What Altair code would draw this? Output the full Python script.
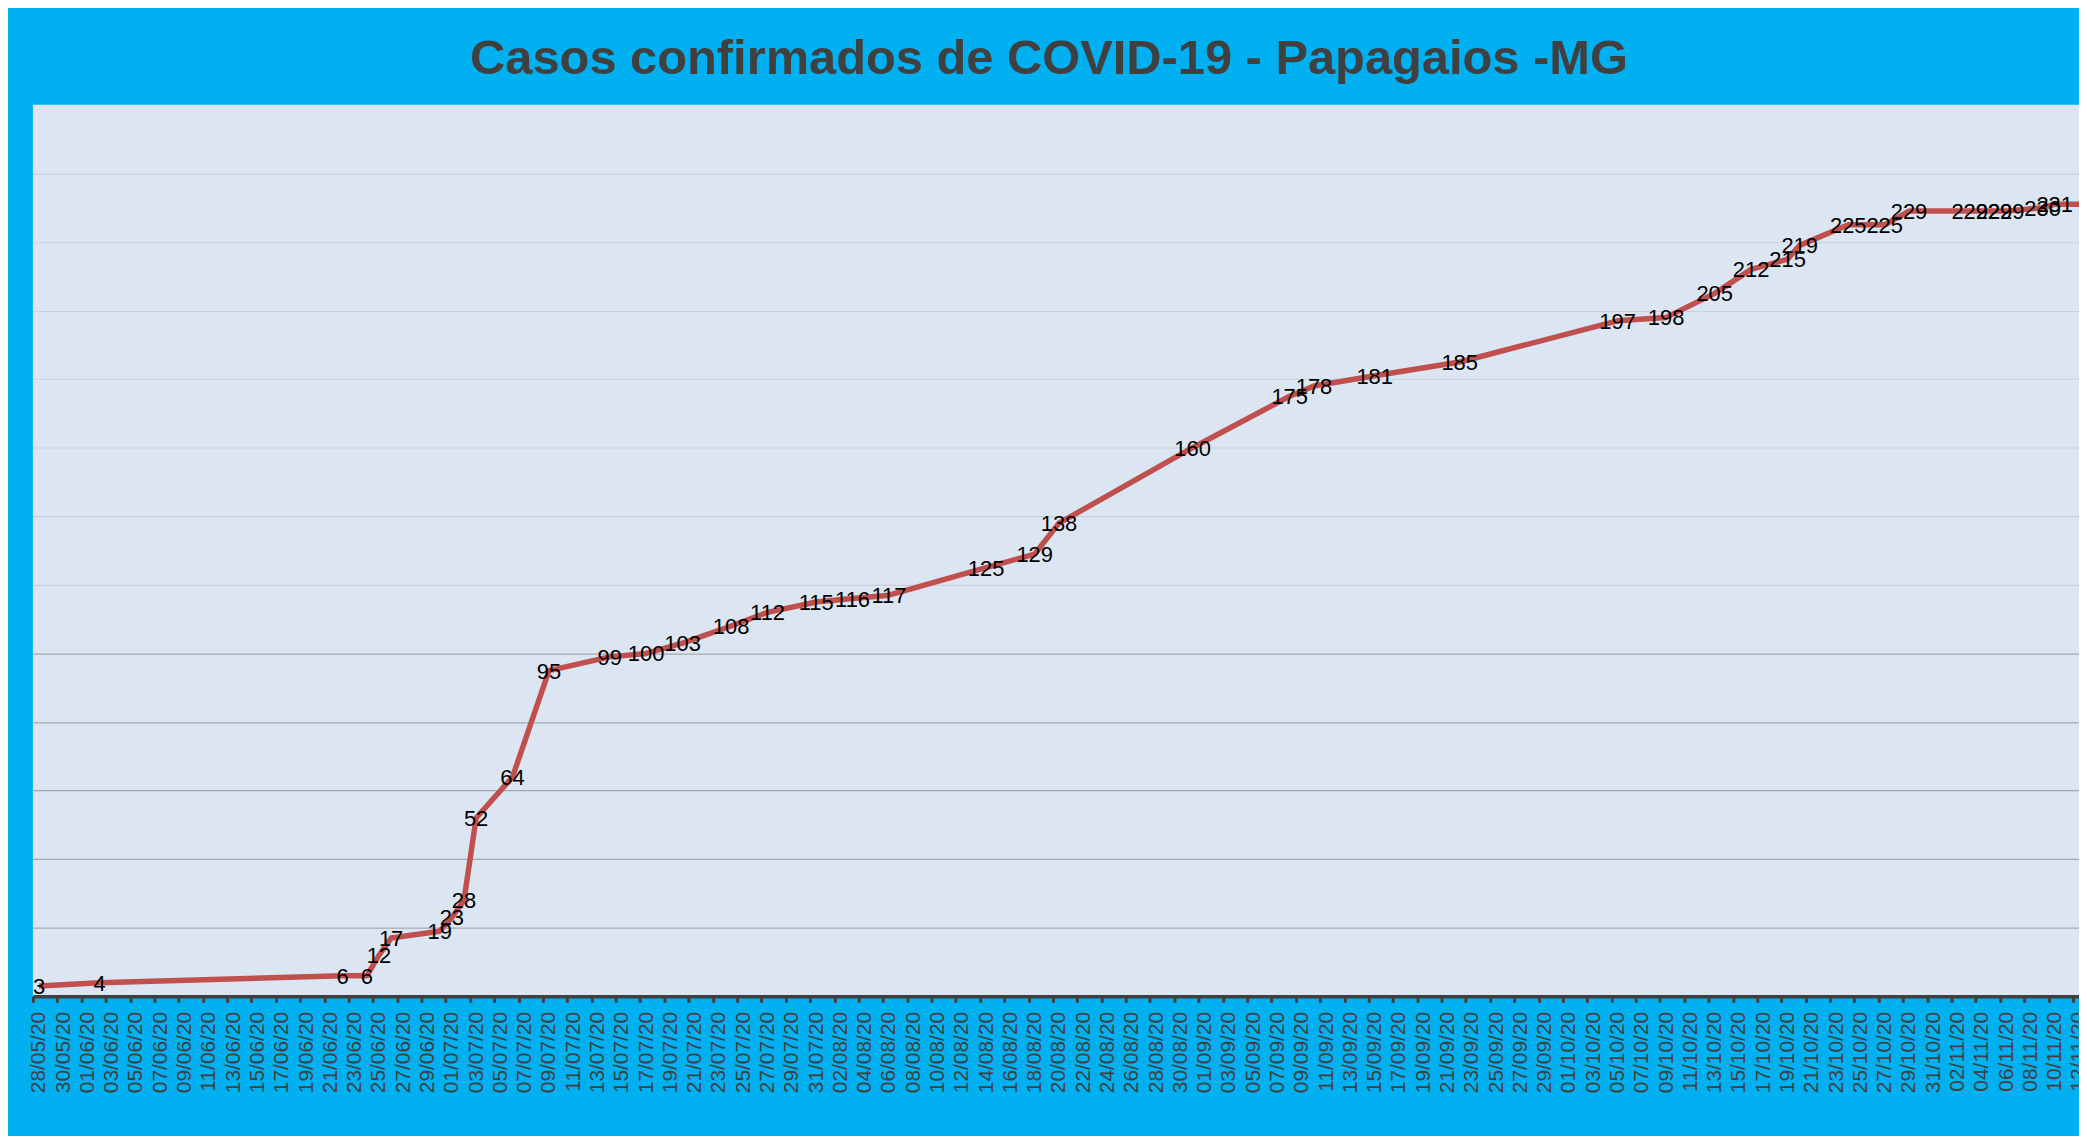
import altair as alt
import pandas as pd

# ---- data ----
dates = [
    "2020-05-28", "2020-06-02", "2020-06-22", "2020-06-24", "2020-06-25", "2020-06-26",
    "2020-06-30", "2020-07-01", "2020-07-02", "2020-07-03", "2020-07-06", "2020-07-09",
    "2020-07-14", "2020-07-17", "2020-07-20", "2020-07-24", "2020-07-27", "2020-07-31",
    "2020-08-03", "2020-08-06", "2020-08-14", "2020-08-18", "2020-08-20", "2020-08-31",
    "2020-09-08", "2020-09-10", "2020-09-15", "2020-09-22", "2020-10-05", "2020-10-09",
    "2020-10-13", "2020-10-16", "2020-10-19", "2020-10-20", "2020-10-24", "2020-10-27",
    "2020-10-29", "2020-11-03", "2020-11-05", "2020-11-06", "2020-11-09", "2020-11-10",
    "2020-11-15",
]
casos = [
    3, 4, 6, 6, 12, 17,
    19, 23, 28, 52, 64, 95,
    99, 100, 103, 108, 112, 115,
    116, 117, 125, 129, 138, 160,
    175, 178, 181, 185, 197, 198,
    205, 212, 215, 219, 225, 225,
    229, 229, 229, 229, 230, 231,
    231,
]

title_text = "Casos confirmados de COVID-19 - Papagaios -MG"
axis_start = "2020-05-28T00:00:00"
axis_end = "2020-11-12T12:00:00"   # the plot runs off the right edge in the reference
last_tick = "2020-11-12"
y_max = 260
y_grid = [20, 40, 60, 80, 100, 120, 140, 160, 180, 200, 220, 240]

df = pd.DataFrame({"data": dates, "casos": casos})

tick_dates = pd.date_range(axis_start, last_tick, freq="2D", tz="UTC")
tick_ms = [int(t.value // 1_000_000) for t in tick_dates]
start_ms = int(pd.Timestamp(axis_start, tz="UTC").value // 1_000_000)
end_ms = int(pd.Timestamp(axis_end, tz="UTC").value // 1_000_000)

FONT = "Liberation Sans"

W = 2054
H = 895

x_enc = alt.X(
    "t:T",
    scale=alt.Scale(type="utc", domain=[start_ms, end_ms]),
    axis=alt.Axis(
        values=tick_ms,
        tickCount=500,
        labelExpr="utcFormat(datum.value, '%d/%m/%y')",
        labelAngle=270,
        labelOverlap=False,
        labelFlush=False,
        labelBound=False,
        labelFont=FONT,
        labelFontSize=21,
        labelColor="#404040",
        labelPadding=9,
        labelOffset=6,
        domainColor="#404040",
        domainWidth=3.5,
        tickColor="#404040",
        tickWidth=3,
        tickSize=6,
        grid=False,
        title=None,
    ),
)
y_enc = alt.Y(
    "casos:Q",
    scale=alt.Scale(domain=[0, y_max], nice=False, zero=True),
    axis=alt.Axis(
        values=y_grid,
        tickCount=500,
        labels=False,
        ticks=False,
        domain=False,
        grid=True,
        gridColor={"condition": {"test": "datum.value <= 100", "value": "#a4a8ad"}, "value": "#c8d0da"},
        gridWidth=1.2,
        title=None,
    ),
)

base = alt.Chart(df).transform_calculate(
    t="time(toDate(datum.data)) + 43200000"
)

line = base.mark_line(color="#C0504D", strokeWidth=5.5, strokeJoin="round", clip=True).encode(
    x=x_enc, y=y_enc
)
labels = base.mark_text(
    font=FONT, fontSize=22, color="#000000", align="center", baseline="middle", dy=1, clip=True
).encode(x="t:T", y="casos:Q", text="casos:Q")

chart = (
    alt.layer(line, labels)
    .properties(
        width=W,
        height=H,
        background="#00B0F0",
        padding={"left": 25, "top": 95, "right": 0, "bottom": 138},
        autosize=alt.AutoSizeParams(type="none"),
        title=alt.TitleParams(
            text=title_text,
            font=FONT,
            fontSize=49,
            fontWeight="bold",
            color="#404040",
            anchor="middle",
            frame="group",
            dx=1020 - W / 2,
            offset=21,
        ),
    )
    .configure_view(fill="#DCE6F2", stroke=None)
)

chart.save("out.html", embed_options={"renderer": "svg", "actions": False})
